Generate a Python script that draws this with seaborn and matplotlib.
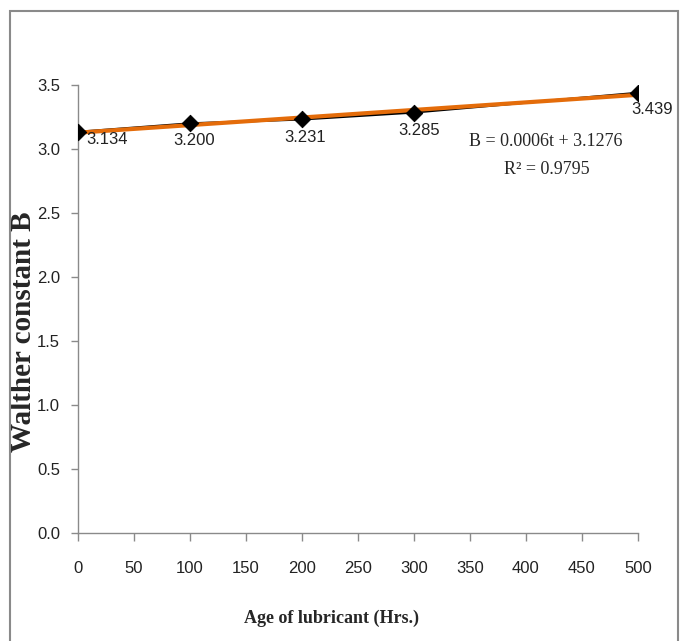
import numpy as np
import pandas as pd
import matplotlib
matplotlib.use("Agg")
import matplotlib.pyplot as plt
from matplotlib.patches import Rectangle
import seaborn as sns

# Data
age_hrs = [0, 100, 200, 300, 500]
walther_b = [3.134, 3.200, 3.231, 3.285, 3.439]
point_labels = ["3.134", "3.200", "3.231", "3.285", "3.439"]
equation_text = "B = 0.0006t + 3.1276"
r2_text = "R\u00b2 = 0.9795"

df = pd.DataFrame({"age": age_hrs, "B": walther_b})

sns.set_style("white")
tick_font = ["Liberation Sans", "DejaVu Sans"]
serif_font = ["Liberation Serif", "DejaVu Serif"]
plt.rcParams["font.family"] = tick_font

fig = plt.figure(figsize=(6.81, 6.41), dpi=100)
ax = fig.add_axes([78 / 681, 108 / 641, 560 / 681, 448 / 641])

# outer frame around the chart
fig.patches.append(Rectangle((10 / 681, -0.02), 668 / 681, (641 - 11) / 641 + 0.02,
                             transform=fig.transFigure, fill=False,
                             edgecolor="#8a8a8a", linewidth=1.5))

# data line, trendline, markers
sns.lineplot(data=df, x="age", y="B", color="black", linewidth=1.6, ax=ax, zorder=2)
sns.regplot(data=df, x="age", y="B", ci=None, scatter=False, ax=ax,
            line_kws={"color": "#E46C0A", "linewidth": 3.0, "zorder": 3})
sns.scatterplot(data=df, x="age", y="B", marker="D", s=70, color="black",
                edgecolor="black", ax=ax, zorder=4)

# value labels
offsets = [(29, -8), (4, -17), (3, -18), (5, -18), (14, -17)]
for x, y, lab, off in zip(age_hrs, walther_b, point_labels, offsets):
    ax.annotate(lab, (x, y), xytext=off, textcoords="offset pixels",
                ha="center", va="center", fontsize=12, family=tick_font, color="#222222")

ax.text(0.836, 0.873, equation_text, transform=ax.transAxes, ha="center", va="center",
        fontsize=13, family=serif_font)
ax.text(0.838, 0.8125, r2_text, transform=ax.transAxes, ha="center", va="center",
        fontsize=13, family=serif_font)

ax.set_xlim(0, 500)
ax.set_ylim(0, 3.5)
ax.set_xticks(np.arange(0, 501, 50))
ax.set_yticks(np.arange(0, 3.51, 0.5))
ax.set_yticklabels([f"{v:.1f}" for v in np.arange(0, 3.51, 0.5)])

ax.set_xlabel("Age of lubricant (Hrs.)", family=serif_font, fontweight="bold", fontsize=13)
ax.set_ylabel("Walther constant B", family=serif_font, fontweight="bold", fontsize=21)
ax.xaxis.set_label_coords(0.452, -0.172)
ax.yaxis.set_label_coords(-0.074, 0.449)

for side in ["top", "right"]:
    ax.spines[side].set_visible(False)
for side in ["left", "bottom"]:
    ax.spines[side].set_color("#8a8a8a")
    ax.spines[side].set_linewidth(1.0)

ax.tick_params(axis="x", direction="out", length=6, width=1, color="#8a8a8a",
               pad=14, labelsize=12, labelcolor="#222222")
ax.tick_params(axis="y", direction="out", length=5, width=1, color="#8a8a8a",
               pad=8, labelsize=12, labelcolor="#222222")
ax.tick_params(bottom=True, left=True)

fig.savefig("out.png", dpi=100)
